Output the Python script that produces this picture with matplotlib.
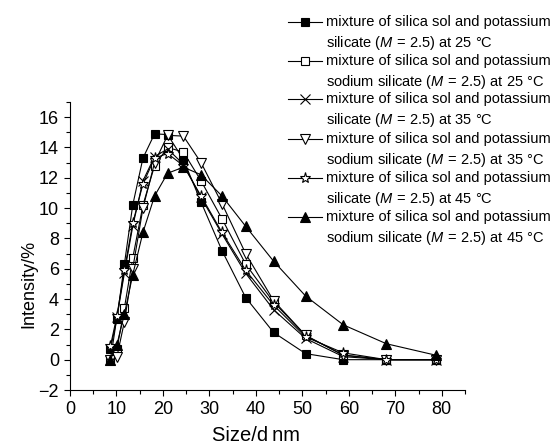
import matplotlib
matplotlib.use("Agg")
import matplotlib.pyplot as plt
from matplotlib.lines import Line2D
from matplotlib.ticker import MultipleLocator

plt.rcParams['font.family'] = ['Liberation Sans', 'DejaVu Sans']
plt.rcParams['mathtext.fontset'] = 'custom'
plt.rcParams['mathtext.rm'] = 'Liberation Sans'
plt.rcParams['mathtext.it'] = 'Liberation Sans:italic'

# size bins (d nm)
size_nm = [8.7, 10.1, 11.7, 13.5, 15.7, 18.2, 21.0, 24.4, 28.2, 32.7, 37.8, 43.8, 50.7, 58.8, 68.1, 78.8]

k_25 = [0.7, 2.7, 6.3, 10.2, 13.3, 14.9, 14.85, 13.2, 10.4, 7.2, 4.1, 1.8, 0.4, 0.0, 0.0, 0.0]
kna_25 = [0.0, 0.7, 3.4, 6.7, 10.2, 12.8, 14.0, 13.7, 11.8, 9.3, 6.3, 3.8, 1.6, 0.3, 0.0, 0.0]
k_35 = [0.0, 2.8, 5.7, 8.8, 11.8, 13.4, 13.9, 12.9, 10.7, 8.3, 5.7, 3.3, 1.4, 0.2, 0.0, 0.0]
kna_35 = [0.0, 0.2, 2.5, 6.0, 10.0, 13.0, 14.8, 14.75, 13.0, 10.3, 7.0, 3.9, 1.6, 0.3, 0.0, 0.0]
k_45 = [0.9, 2.9, 5.9, 9.0, 11.6, 13.3, 13.6, 12.8, 10.8, 8.4, 5.9, 3.6, 1.5, 0.45, 0.0, 0.0]
kna_45 = [0.0, 1.0, 3.0, 5.6, 8.4, 10.8, 12.3, 12.7, 12.2, 10.8, 8.8, 6.5, 4.2, 2.3, 1.05, 0.29]

labels = [
    ("mixture of silica sol and potassium", r"silicate ($M\,{=}\,$2.5) at 25 °C"),
    ("mixture of silica sol and potassium", r"sodium silicate ($M\,{=}\,$2.5) at 25 °C"),
    ("mixture of silica sol and potassium", r"silicate ($M\,{=}\,$2.5) at 35 °C"),
    ("mixture of silica sol and potassium", r"sodium silicate ($M\,{=}\,$2.5) at 35 °C"),
    ("mixture of silica sol and potassium", r"silicate ($M\,{=}\,$2.5) at 45 °C"),
    ("mixture of silica sol and potassium", r"sodium silicate ($M\,{=}\,$2.5) at 45 °C"),
]

styles = [
    dict(marker='s', mfc='black', ms=5.5),
    dict(marker='s', mfc='white', ms=5.5),
    dict(marker='x', mfc='none', ms=7),
    dict(marker='v', mfc='white', ms=7.5),
    dict(marker='*', mfc='white', ms=8),
    dict(marker='^', mfc='black', ms=7),
]

W, H = 550, 444
fig = plt.figure(figsize=(W / 100, H / 100), dpi=100)
ax = fig.add_axes([70 / W, 1 - 390 / H, 395 / W, 288 / H])

series = [k_25, kna_25, k_35, kna_35, k_45, kna_45]
for vals, st in zip(series, styles):
    ax.plot(size_nm, vals, color='black', lw=0.8, mec='black', mew=0.8, **st)

ax.set_xlim(0, 85)
ax.set_ylim(-2, 17)
ax.xaxis.set_major_locator(MultipleLocator(10))
ax.xaxis.set_minor_locator(MultipleLocator(5))
ax.yaxis.set_minor_locator(MultipleLocator(1))
ax.set_yticks(range(-2, 17, 2))
for s in ['top', 'right']:
    ax.spines[s].set_visible(False)
for s in ['left', 'bottom']:
    ax.spines[s].set_linewidth(0.8)
ax.tick_params(which='major', direction='out', length=4, width=0.8, labelsize=13, pad=4)
ax.tick_params(which='minor', direction='out', length=3, width=0.8)
ax.set_xlabel("Size/d\u2009nm", fontsize=14.5)
ax.set_ylabel("Intensity/%", fontsize=13)
ax.xaxis.set_label_coords(0.47, -0.125)
ax.yaxis.set_label_coords(-0.083, 0.37)

# hand-placed legend (pixel positions)
def fx(px):
    return px / W

def fy(py):
    return 1 - py / H

first_line = [21.7, 60.7, 99.3, 139.3, 178.3, 216.7]
for (l1, l2), st, y in zip(labels, styles, first_line):
    fig.add_artist(Line2D([fx(288), fx(322)], [fy(y), fy(y)], transform=fig.transFigure,
                          color='black', lw=0.8))
    fig.add_artist(Line2D([fx(305)], [fy(y)], transform=fig.transFigure, color='black',
                          mec='black', mew=0.8, linestyle='none', **st))
    fig.text(fx(326), fy(y), l1, fontsize=10.5, va='center', ha='left')
    fig.text(fx(326), fy(y + 21), l2, fontsize=10.5, va='center', ha='left')

fig.savefig("out.png", dpi=100)
